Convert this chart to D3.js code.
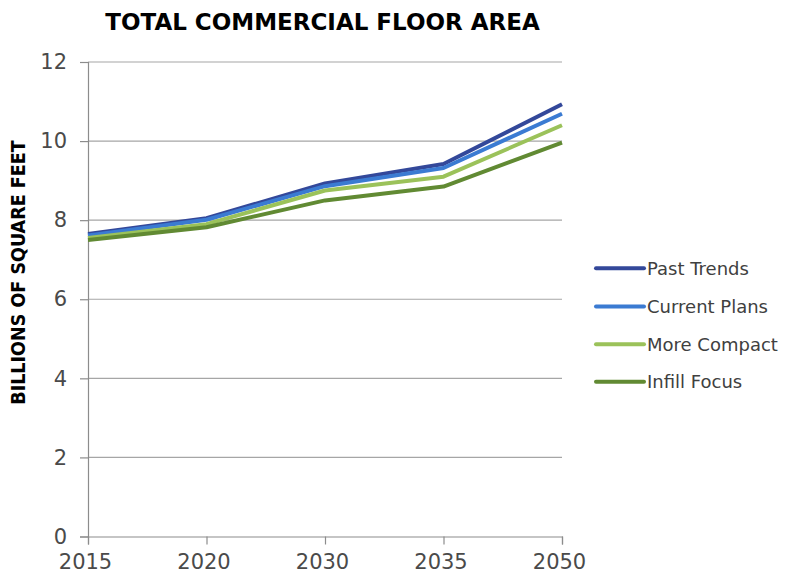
<!DOCTYPE html>
<html>
<head>
<meta charset="utf-8">
<script src="https://cdn.jsdelivr.net/npm/d3@7"></script>
<style>
  html, body { margin: 0; padding: 0; background: #fff; }
  svg { display: block; font-family: "DejaVu Sans", sans-serif; }
</style>
</head>
<body>
<svg id="chart" width="796" height="576"></svg>
<script>
const categories = ["2015", "2020", "2030", "2035", "2050"];
const seriesNames = ["Past Trends", "Current Plans", "More Compact", "Infill Focus"];
const pastTrends   = [7.65, 8.05, 8.93, 9.42, 10.93];
const currentPlans = [7.61, 8.01, 8.86, 9.32, 10.69];
const moreCompact  = [7.55, 7.90, 8.75, 9.10, 10.40];
const infillFocus  = [7.50, 7.82, 8.50, 8.85, 9.96];
const yTicks = [0, 2, 4, 6, 8, 10, 12];
const colors = ["#33489a", "#3b7bd2", "#9bc25a", "#618a33"];
const title = "TOTAL COMMERCIAL FLOOR AREA";
const yTitle = "BILLIONS OF SQUARE FEET";

const series = [pastTrends, currentPlans, moreCompact, infillFocus];

const svg = d3.select("#chart");
const mLeft = 88, mRight = 562, mTop = 62, mBottom = 536.5;
const fontStack = "\"DejaVu Sans\", sans-serif";

const x = d3.scalePoint().domain(categories).range([mLeft, mRight]);
const y = d3.scaleLinear().domain([0, 12]).range([mBottom, mTop]);

// gridlines
svg.append("g")
  .selectAll("line")
  .data(yTicks.filter(d => d > 0))
  .join("line")
  .attr("x1", mLeft).attr("x2", mRight)
  .attr("y1", d => y(d)).attr("y2", d => y(d))
  .attr("stroke", "#a6a6a6").attr("stroke-width", 1.2);

// y axis
const yAxis = svg.append("g")
  .attr("transform", `translate(${mLeft},0)`)
  .call(d3.axisLeft(y).tickValues(yTicks).tickSize(8).tickPadding(13).tickFormat(d3.format("d")));
yAxis.select(".domain").attr("stroke", "#8c8c8c").attr("stroke-width", 1.2);
yAxis.selectAll(".tick line").attr("stroke", "#8c8c8c").attr("stroke-width", 1.2);
yAxis.selectAll(".tick text").attr("fill", "#4a4a4a").attr("font-size", 21)
  .attr("font-family", fontStack);

// x axis
const xAxis = svg.append("g")
  .attr("transform", `translate(0,${mBottom})`)
  .call(d3.axisBottom(x).tickSize(8).tickPadding(9.5));
xAxis.select(".domain").attr("stroke", "#8c8c8c").attr("stroke-width", 1.2);
xAxis.selectAll(".tick line").attr("stroke", "#8c8c8c").attr("stroke-width", 1.2);
xAxis.selectAll(".tick text").attr("fill", "#4a4a4a").attr("font-size", 21)
  .attr("dx", -3)
  .attr("font-family", fontStack);

// lines
const line = d3.line().x((d, i) => x(categories[i])).y(d => y(d));
svg.append("g")
  .selectAll("path")
  .data(series)
  .join("path")
  .attr("d", d => line(d))
  .attr("fill", "none")
  .attr("stroke", (d, i) => colors[i])
  .attr("stroke-width", 4)
  .attr("stroke-linejoin", "round");

// title
svg.append("text")
  .attr("x", 322.5).attr("y", 30)
  .attr("text-anchor", "middle")
  .attr("font-size", 23).attr("font-weight", "bold")
  .attr("fill", "#000")
  .text(title);

// y axis title
svg.append("text")
  .attr("transform", "translate(25,272.5) rotate(-90)")
  .attr("text-anchor", "middle")
  .attr("font-family", "\"DejaVu Sans Condensed\", \"DejaVu Sans\", sans-serif")
  .attr("font-size", 19.5).attr("font-weight", "bold")
  .attr("fill", "#000")
  .text(yTitle);

// legend
const legendY = [268.3, 306.5, 344.3, 381.7];
const legend = svg.append("g");
seriesNames.forEach((name, i) => {
  legend.append("line")
    .attr("x1", 596).attr("x2", 644)
    .attr("y1", legendY[i]).attr("y2", legendY[i])
    .attr("stroke", colors[i]).attr("stroke-width", 4).attr("stroke-linecap", "round");
  legend.append("text")
    .attr("x", 647).attr("y", legendY[i] + 6.7)
    .attr("font-size", 18).attr("fill", "#404040")
    .text(name);
});
</script>
</body>
</html>
